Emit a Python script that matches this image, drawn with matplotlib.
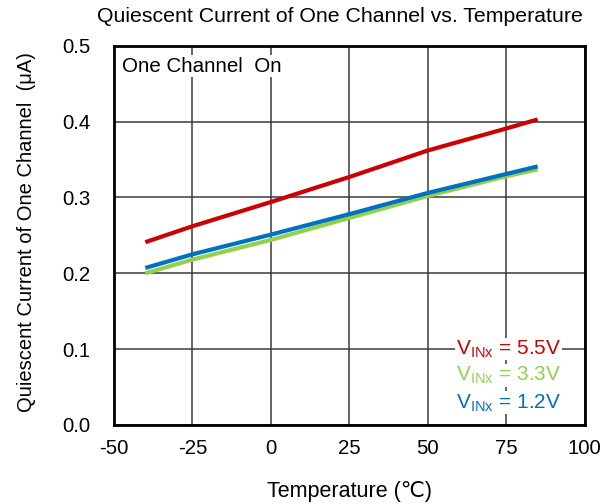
import numpy as np
import matplotlib
matplotlib.use('Agg')
import matplotlib.pyplot as plt

plt.rcParams['font.family'] = ['Liberation Sans', 'DejaVu Sans']
plt.rcParams['mathtext.fontset'] = 'custom'
plt.rcParams['mathtext.rm'] = 'Liberation Sans'
plt.rcParams['axes.unicode_minus'] = False

# Temperature points (degC)
temp = [-40, -25, 0, 25, 50, 75, 85]
# Quiescent current (uA) per input voltage
iq_5v5 = [0.241, 0.262, 0.294, 0.327, 0.362, 0.391, 0.403]
iq_3v3 = [0.200, 0.218, 0.244, 0.273, 0.302, 0.328, 0.337]
iq_1v2 = [0.207, 0.225, 0.251, 0.278, 0.306, 0.331, 0.341]

x_ticks = [-50, -25, 0, 25, 50, 75, 100]
y_ticks = [0.0, 0.1, 0.2, 0.3, 0.4, 0.5]

red = '#cc0000'
green = '#92d050'
blue = '#0070c0'

fig = plt.figure(figsize=(6.06, 5.04), dpi=100)
ax = fig.add_axes([0.188, 0.157, 0.777, 0.752])

ax.plot(temp, iq_3v3, color=green, lw=3.0, solid_capstyle='butt', zorder=3)
ax.plot(temp, iq_1v2, color=blue, lw=3.0, solid_capstyle='butt', zorder=4)
ax.plot(temp, iq_5v5, color=red, lw=3.0, solid_capstyle='butt', zorder=5)

ax.set_xlim(-50, 100)
ax.set_ylim(0, 0.5)
ax.set_xticks(x_ticks)
ax.set_yticks(y_ticks)
ax.set_yticklabels([f'{v:.1f}' for v in y_ticks])
ax.tick_params(length=0, labelsize=14.7)
ax.tick_params(axis='y', pad=17)
ax.tick_params(axis='x', pad=10)
ax.grid(True, color='#3a3a3a', lw=1.1)
for s in ax.spines.values():
    s.set_linewidth(2.0)
    s.set_color('black')

ax.set_xlabel('Temperature (\u2103)', fontsize=15.5)
ax.xaxis.set_label_coords(0.5, -0.147)
ax.set_ylabel('Quiescent Current of One Channel  (\u03bcA)', fontsize=14.5)
ax.yaxis.set_label_coords(-0.166, 0.51)
fig.text(340 / 606, 1 - 17 / 504, 'Quiescent Current of One Channel vs. Temperature',
         ha='center', va='center', fontsize=15.3)

ax.text(-47.5, 0.473, 'One Channel  On', fontsize=14.8, ha='left', va='center',
        bbox=dict(facecolor='white', edgecolor='none', pad=1), zorder=6)

legend_items = [('5.5V', red, 0.100), ('3.3V', green, 0.065), ('1.2V', blue, 0.029)]
for txt, col, yy in legend_items:
    ax.text(92.5, yy, r'V$_{\mathregular{INx}}$ = ' + txt, color=col, fontsize=15,
            ha='right', va='center',
            bbox=dict(facecolor='white', edgecolor='none', pad=0.5), zorder=6)

fig.savefig('out.png', dpi=100)
